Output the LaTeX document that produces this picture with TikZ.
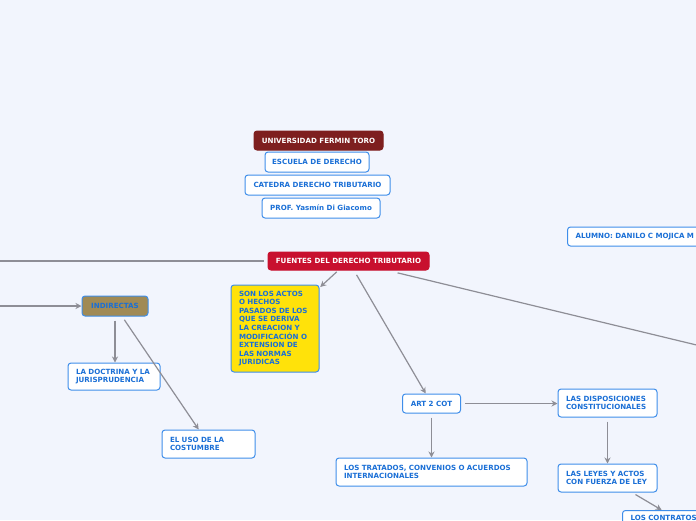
\documentclass[tikz,border=0pt]{standalone}
\usepackage{fontspec}
\setmainfont{DejaVu Sans}
\usetikzlibrary{arrows.meta}
\definecolor{bg}{HTML}{F2F5FD}
\definecolor{bluetxt}{HTML}{1A6FD6}
\definecolor{blueborder}{HTML}{3F8EEA}
\definecolor{darkred}{HTML}{7E1F1F}
\definecolor{crimson}{HTML}{C8102E}
\definecolor{yell}{HTML}{FFE20A}
\definecolor{brownish}{HTML}{A08A55}
\definecolor{lineg}{HTML}{8E8E96}
\tikzset{
  box/.style={draw=blueborder, fill=white, line width=1pt, rounded corners=3pt,
    text=bluetxt, font=\fontsize{7.1}{8.8}\selectfont\bfseries, inner sep=0pt, align=center},
  mbox/.style={box, align=left, inner xsep=8pt, inner ysep=0pt},
  conn/.style={draw=lineg, line width=1.2pt, -{Stealth[length=6pt,width=6pt]}},
  plain/.style={draw=lineg, line width=1.2pt},
}
\begin{document}
\begin{tikzpicture}[x=1pt,y=-1pt]
\fill[bg] (0,0) rectangle (696,520);
\useasboundingbox (0,0) rectangle (696,520);
\clip (0,0) rectangle (696,520);

\node[box, fill=darkred, draw=darkred, text=white, minimum width=129, minimum height=19] (uft) at (318.5,140.5) {UNIVERSIDAD FERMIN TORO};
\node[box, minimum width=104, minimum height=20] (esc) at (317,162) {ESCUELA DE DERECHO};
\node[box, minimum width=145, minimum height=20] (cat) at (317.5,185) {CATEDRA DERECHO TRIBUTARIO};
\node[box, minimum width=118, minimum height=20] (prof) at (321,208) {PROF. Yasmín Di Giacomo};
\node[box, fill=crimson, draw=crimson, text=white, minimum width=161, minimum height=18] (fuentes) at (348.5,261) {FUENTES DEL DERECHO TRIBUTARIO};
\node[mbox, anchor=west, text width=150, minimum height=19] (alumno) at (567,236.5) {ALUMNO: DANILO C MOJICA M};

\node[mbox, fill=yell, text width=72, minimum height=87, inner xsep=8pt, font=\fontsize{7.1}{8.6}\selectfont\bfseries] (yellow) at (275,328.5) {SON LOS ACTOS\\O HECHOS\\PASADOS DE LOS\\QUE SE DERIVA\\LA CREACION Y\\MODIFICACIÓN O\\EXTENSION DE\\LAS NORMAS\\JURIDICAS};

\node[box, fill=brownish, minimum width=66, minimum height=20] (indir) at (115,306) {INDIRECTAS};
\node[mbox, text width=76, minimum height=27] (doct) at (114,376.5) {LA DOCTRINA Y LA\\JURISPRUDENCIA};
\node[mbox, text width=77, minimum height=28] (uso) at (208.5,444) {EL USO DE LA\\COSTUMBRE};
\node[box, minimum width=58, minimum height=19] (art) at (431.5,403.5) {ART 2 COT};
\node[mbox, text width=175, minimum height=28] (trat) at (431.5,472) {LOS TRATADOS, CONVENIOS O ACUERDOS\\INTERNACIONALES};
\node[mbox, text width=83, minimum height=28] (disp) at (607.5,403) {LAS DISPOSICIONES\\CONSTITUCIONALES};
\node[mbox, text width=83, minimum height=28] (leyes) at (607.5,478) {LAS LEYES Y ACTOS\\CON FUERZA DE LEY};
\node[mbox, anchor=north west, text width=90, inner ysep=5pt] (contr) at (622,510) {LOS CONTRATOS\\};

\coordinate (lf) at (-10,261);
\coordinate (li) at (-10,306);
\coordinate (fr) at (796,369);

\draw[plain, shorten <=4pt] (fuentes.west) -- (lf);
\draw[conn] (li) -- (indir.west);
\draw[conn, shorten <=2pt, shorten >=1pt] (fuentes) -- (yellow);
\draw[conn, shorten <=5pt] (fuentes) -- (art);
\draw[plain, shorten <=10pt] (fuentes) -- (fr);
\draw[conn, shorten <=4pt] (indir.south) -- (indir.south |- doct.north);
\draw[conn, shorten <=4pt] (indir) -- (uso);
\draw[conn, shorten <=4pt] (art.south) -- (art.south |- trat.north);
\draw[conn, shorten <=4pt] (art.east) -- (disp.west |- art.east);
\draw[conn, shorten <=4pt] (disp.south) -- (leyes.north);
\draw[conn, shorten <=4pt] (leyes) -- (contr);
\end{tikzpicture}
\end{document}
